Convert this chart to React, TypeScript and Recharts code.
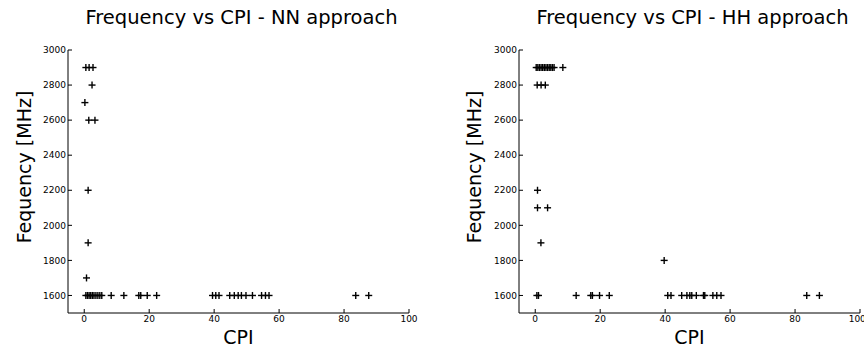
import { ScatterChart, Scatter, XAxis, YAxis } from "recharts";

// CPI / frequency pairs
const nnCpi = [
  0.5, 1.5, 2.7, 2.4, 0.2, 1.4, 3.3, 1.2, 1.2, 0.7,
  0.5, 1.0, 1.5, 2.0, 2.5, 3.0, 3.6, 4.2, 4.8, 5.4, 8.3, 12.2, 16.8, 17.4, 19.4, 22.3,
  39.5, 40.5, 41.5, 44.8, 46.2, 47.4, 48.4, 49.8, 51.8, 54.6, 55.8, 56.9, 83.6, 87.6,
];
const nnFreq = [
  2900, 2900, 2900, 2800, 2700, 2600, 2600, 2200, 1900, 1700,
  1600, 1600, 1600, 1600, 1600, 1600, 1600, 1600, 1600, 1600, 1600, 1600, 1600, 1600, 1600, 1600,
  1600, 1600, 1600, 1600, 1600, 1600, 1600, 1600, 1600, 1600, 1600, 1600, 1600, 1600,
];

const hhCpi = [
  0.3, 0.8, 1.3, 1.8, 2.3, 2.8, 3.3, 3.8, 4.3, 4.8, 5.3, 5.8, 8.5,
  0.6, 1.8, 3.1, 0.7, 0.7, 3.8, 1.75, 39.7,
  0.5, 1.0, 12.6, 17.1, 17.6, 19.8, 22.8, 40.8, 41.8, 45.1, 46.7, 47.6, 48.2, 49.6,
  51.8, 52.2, 54.7, 55.9, 57.2, 83.6, 87.5,
];
const hhFreq = [
  2900, 2900, 2900, 2900, 2900, 2900, 2900, 2900, 2900, 2900, 2900, 2900, 2900,
  2800, 2800, 2800, 2200, 2100, 2100, 1900, 1800,
  1600, 1600, 1600, 1600, 1600, 1600, 1600, 1600, 1600, 1600, 1600, 1600, 1600, 1600,
  1600, 1600, 1600, 1600, 1600, 1600, 1600,
];

const xTicks = [0, 20, 40, 60, 80, 100];
const yTicks = [1600, 1800, 2000, 2200, 2400, 2600, 2800, 3000];

const FONT = "DejaVu Sans, sans-serif";

const Plus = (props: any) => {
  const { cx, cy } = props;
  if (cx == null || cy == null) return <g />;
  return (
    <g stroke="#000" strokeWidth={1.4}>
      <line x1={cx - 3.5} y1={cy} x2={cx + 3.5} y2={cy} />
      <line x1={cx} y1={cy - 3.5} x2={cx} y2={cy + 3.5} />
    </g>
  );
};

const NoTick = () => <g />;

function Panel({ title, cpi, freq, left, marginLeft, marginRight, yLabelX }: any) {
  const data = cpi.map((c: number, i: number) => ({ cpi: c, freq: freq[i] }));
  const W = 432;
  const H = 349;
  const tickStyle = { fontSize: 9, fill: "#000", fontFamily: FONT };
  const pad = marginLeft + 30 - marginRight + 6;
  return (
    <div style={{ position: "absolute", left, top: 0, width: W, height: H }}>
      <ScatterChart
        width={W}
        height={H}
        margin={{ top: 50, right: marginRight, bottom: 0, left: marginLeft }}
      >
        <XAxis
          xAxisId="b"
          type="number"
          dataKey="cpi"
          domain={[-5, 100]}
          ticks={xTicks}
          allowDataOverflow
          height={36}
          stroke="#000"
          tickSize={-4}
          tickMargin={7}
          tick={tickStyle}
        />
        <XAxis
          xAxisId="t"
          orientation="top"
          type="number"
          dataKey="cpi"
          domain={[-5, 100]}
          ticks={xTicks}
          allowDataOverflow
          height={0}
          stroke="#000"
          tickSize={-4}
          tick={NoTick}
        />
        <YAxis
          yAxisId="l"
          type="number"
          dataKey="freq"
          domain={[1500, 3000]}
          ticks={yTicks}
          allowDataOverflow
          width={30}
          stroke="#000"
          tickSize={-4}
          tickMargin={6}
          tick={tickStyle}
        />
        <YAxis
          yAxisId="r"
          orientation="right"
          type="number"
          dataKey="freq"
          domain={[1500, 3000]}
          ticks={yTicks}
          allowDataOverflow
          width={0}
          stroke="#000"
          tickSize={-4}
          tick={NoTick}
        />
        <Scatter
          data={data}
          xAxisId="b"
          yAxisId="l"
          shape={Plus}
          isAnimationActive={false}
        />
      </ScatterChart>
      <div
        style={{
          position: "absolute",
          left: 0,
          width: W,
          top: 6,
          textAlign: "center",
          fontFamily: FONT,
          fontSize: 19.5,
          paddingLeft: pad,
          boxSizing: "border-box",
          color: "#000",
          whiteSpace: "nowrap",
        }}
      >
        {title}
      </div>
      <div
        style={{
          position: "absolute",
          left: 0,
          width: W,
          top: 326,
          textAlign: "center",
          fontFamily: FONT,
          fontSize: 19,
          paddingLeft: pad - 6,
          boxSizing: "border-box",
          color: "#000",
        }}
      >
        CPI
      </div>
      <div
        style={{
          position: "absolute",
          left: yLabelX - 100,
          top: 167 - 12,
          width: 200,
          height: 24,
          lineHeight: "24px",
          textAlign: "center",
          fontFamily: FONT,
          fontSize: 19,
          transform: "rotate(-90deg)",
          color: "#000",
          whiteSpace: "nowrap",
        }}
      >
        Fequency [MHz]
      </div>
    </div>
  );
}

export default function App() {
  return (
    <div style={{ position: "absolute", left: 0, top: 0, width: 864, height: 349, background: "#fff" }}>
      <Panel
        title="Frequency vs CPI - NN approach"
        cpi={nnCpi}
        freq={nnFreq}
        left={0}
        marginLeft={38}
        marginRight={23}
        yLabelX={24}
      />
      <Panel
        title="Frequency vs CPI - HH approach"
        cpi={hhCpi}
        freq={hhFreq}
        left={432}
        marginLeft={57}
        marginRight={4}
        yLabelX={42}
      />
    </div>
  );
}
